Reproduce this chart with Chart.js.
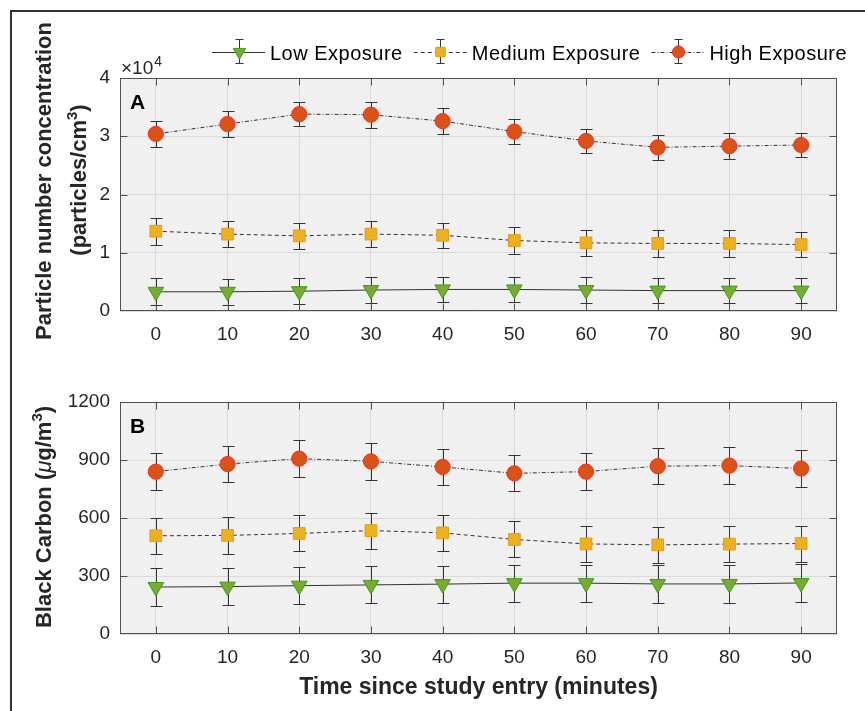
<!DOCTYPE html>
<html><head><meta charset="utf-8">
<script src="https://cdn.jsdelivr.net/npm/chart.js@4"></script>
<style>
html,body{margin:0;padding:0;background:#fff;}
#wrap{position:relative;width:865px;height:711px;overflow:hidden;background:#fff;}
#frame{position:absolute;left:10px;top:10px;width:900px;height:800px;border-left:2px solid #333;border-top:2px solid #333;}
canvas{position:absolute;left:0;}
#ca{top:0;}
#cb{top:360px;}
</style></head>
<body>
<div id="wrap"><div id="frame"></div>
<canvas id="ca" width="865" height="360"></canvas>
<canvas id="cb" width="865" height="351"></canvas>
</div>
<script>
// ---------- data ----------
const timeMin = [0,10,20,30,40,50,60,70,80,90];
const xTicks = [0,10,20,30,40,50,60,70,80,90];
const pncTicks = [0,10000,20000,30000,40000];
const bcTicks = [0,300,600,900,1200];
const seriesNames = ['Low Exposure','Medium Exposure','High Exposure'];

const pncLow     = [3300,3300,3400,3600,3700,3700,3600,3500,3500,3500];
const pncLowErr  = [2300,2200,2200,2200,2200,2200,2200,2200,2200,2200];
const pncMed     = [13700,13200,12900,13200,13000,12100,11700,11600,11600,11400];
const pncMedErr  = [2300,2200,2200,2200,2100,2300,2200,2300,2300,2200];
const pncHigh    = [30400,32100,33800,33700,32600,30800,29200,28100,28300,28500];
const pncHighErr = [2200,2200,2100,2200,2200,2100,2100,2200,2200,2100];

const bcLow      = [243,245,250,254,258,263,263,259,259,264];
const bcLowErr   = [96,97,96,96,96,96,96,97,97,96];
const bcMed      = [508,510,520,535,523,489,466,461,465,468];
const bcMedErr   = [93,94,93,93,93,93,93,93,93,93];
const bcHigh     = [840,879,907,893,864,831,840,868,871,856];
const bcHighErr  = [96,95,95,97,95,93,95,94,95,94];

// ---------- styles ----------
const FONT = "'Liberation Sans', Arial, Helvetica, sans-serif";
const TXT = '#262626';
const LINE = '#333333';
const BOX = '#505050';
const styles = [
  {pointStyle:'triangle', rotation:180, pointRadius:9, bg:'#77AC30', edge:'#3f9a1c', dash:[]},
  {pointStyle:'rect', rotation:0, pointRadius:8.3, bg:'#EDB120', edge:'#e59a18', dash:[4,3]},
  {pointStyle:'circle', rotation:0, pointRadius:7.6, bg:'#D95319', edge:'#ff2a1a', dash:[4,2,1,2]}
];

function mkDatasets(vals, errs){
  return vals.map((v,k)=>({
    label: seriesNames[k],
    data: timeMin.map((t,i)=>({x:t, y:v[i]})),
    err: errs[k],
    borderColor: LINE, borderWidth: 1, borderDash: styles[k].dash,
    pointStyle: styles[k].pointStyle, rotation: styles[k].rotation,
    pointRadius: styles[k].pointRadius, pointHoverRadius: styles[k].pointRadius,
    pointBackgroundColor: styles[k].bg, pointBorderColor: styles[k].edge, pointBorderWidth: 1,
    fill:false, tension:0
  }));
}

function drawRich(ctx, parts, cx, cy){
  let w = 0;
  parts.forEach(p=>{ctx.font=p.font; p.w=ctx.measureText(p.t).width; w+=p.w;});
  let x = cx - w/2;
  ctx.textAlign='left'; ctx.textBaseline='middle';
  parts.forEach(p=>{ctx.font=p.font; ctx.fillText(p.t, x, cy + (p.dy||0)); x+=p.w;});
}

const decor = {
  id:'decor',
  beforeDraw(chart){
    const {ctx, chartArea:a} = chart;
    ctx.save(); ctx.fillStyle='#f0f0f0';
    ctx.fillRect(a.left, a.top, a.right-a.left, a.bottom-a.top); ctx.restore();
  },
  beforeDatasetsDraw(chart){
    const {ctx} = chart; const xs = chart.scales.x, ys = chart.scales.y;
    ctx.save(); ctx.strokeStyle=LINE; ctx.lineWidth=1; ctx.setLineDash([]);
    chart.data.datasets.forEach(ds=>{
      ds.data.forEach((p,i)=>{
        const e = ds.err[i];
        const x = Math.round(xs.getPixelForValue(p.x))+0.5;
        const y1 = Math.round(ys.getPixelForValue(p.y+e))+0.5;
        const y2 = Math.round(ys.getPixelForValue(p.y-e))+0.5;
        ctx.beginPath();
        ctx.moveTo(x,y1); ctx.lineTo(x,y2);
        ctx.moveTo(x-6,y1); ctx.lineTo(x+6,y1);
        ctx.moveTo(x-6,y2); ctx.lineTo(x+6,y2);
        ctx.stroke();
      });
    });
    ctx.restore();
  },
  afterDraw(chart, args, o){
    const {ctx, chartArea:a} = chart; const xs = chart.scales.x, ys = chart.scales.y;
    ctx.save();
    ctx.strokeStyle=BOX; ctx.lineWidth=1; ctx.setLineDash([]);
    const L=Math.round(a.left)+0.5, R=Math.round(a.right)-0.5, T=Math.round(a.top)+0.5, B=Math.round(a.bottom)-0.5;
    ctx.strokeRect(L, T, R-L, B-T);
    ctx.beginPath();
    xs.ticks.forEach(t=>{const x=Math.round(xs.getPixelForValue(t.value))+0.5; ctx.moveTo(x,B); ctx.lineTo(x,B-7); ctx.moveTo(x,T); ctx.lineTo(x,T+7);});
    ys.ticks.forEach(t=>{const y=Math.round(ys.getPixelForValue(t.value))+0.5; if (y<=T+1||y>=B-1) return; ctx.moveTo(L,y); ctx.lineTo(L+7,y); ctx.moveTo(R,y); ctx.lineTo(R-7,y);});
    ctx.stroke();
    ctx.fillStyle='#000';
    ctx.font = 'bold 21px '+FONT; ctx.textAlign='left'; ctx.textBaseline='alphabetic';
    ctx.fillText(o.letter, a.left+10, a.top+31);
    ctx.fillStyle = TXT;
    o.ylabel.forEach(l=>{
      ctx.save(); ctx.translate(l.x, l.y); ctx.rotate(-Math.PI/2);
      drawRich(ctx, l.parts, 0, 0); ctx.restore();
    });
    if (o.exponent){
      ctx.fillStyle=TXT; ctx.textAlign='left'; ctx.textBaseline='alphabetic';
      ctx.font='19px '+FONT; ctx.fillText('\u00d710', a.left+1, a.top-4);
      const w = ctx.measureText('\u00d710').width;
      ctx.font='14px '+FONT; ctx.fillText('4', a.left+2+w, a.top-12);
    }
    if (o.xlabel){
      ctx.fillStyle=TXT; ctx.font='bold 23px '+FONT; ctx.textAlign='center'; ctx.textBaseline='middle';
      ctx.fillText(o.xlabel, (a.left+a.right)/2, o.xlabelY);
    }
    if (o.legend){
      let x = 212; const ly = 52;
      chart.data.datasets.forEach((ds,k)=>{
        const st = styles[k];
        ctx.strokeStyle=LINE; ctx.lineWidth=1; ctx.setLineDash(st.dash);
        ctx.beginPath(); ctx.moveTo(x, ly+0.5); ctx.lineTo(x+53, ly+0.5); ctx.stroke();
        ctx.setLineDash([]);
        const mx = Math.round(x+26.5)+0.5;
        ctx.beginPath(); ctx.moveTo(mx, 39); ctx.lineTo(mx, 64);
        ctx.moveTo(mx-4, 39.5); ctx.lineTo(mx+4, 39.5); ctx.moveTo(mx-4, 63.5); ctx.lineTo(mx+4, 63.5); ctx.stroke();
        ctx.fillStyle=st.bg; ctx.strokeStyle=st.edge; ctx.lineWidth=1;
        Chart.helpers.drawPoint(ctx, {pointStyle:st.pointStyle, rotation:st.rotation, radius:st.pointRadius*0.8, borderWidth:1}, mx, ly);
        ctx.fillStyle='#000'; ctx.font='20px '+FONT; ctx.textAlign='left'; ctx.textBaseline='alphabetic';
        ctx.letterSpacing = '0.5px';
        ctx.fillText(ds.label, x+58, 59.5);
        const tw = ctx.measureText(ds.label).width;
        ctx.letterSpacing = '0px';
        x = x + 58 + tw + 11;
      });
    }
    ctx.restore();
  }
};

function mkChart(id, datasets, yTicks, yMax, tickFmt, padTop, xAxisH, decorOpts){
  return new Chart(document.getElementById(id), {
    type:'line',
    data:{datasets},
    plugins:[decor],
    options:{
      responsive:false, animation:false, devicePixelRatio:1,
      layout:{padding:{left:0, right:28, top:padTop, bottom:0}},
      plugins:{legend:{display:false}, tooltip:{enabled:false}, decor:decorOpts},
      scales:{
        x:{type:'linear', min:-5, max:95,
          afterBuildTicks:s=>{s.ticks = xTicks.map(v=>({value:v}));},
          afterFit:s=>{s.height = xAxisH;},
          grid:{color:'#dadada', drawTicks:false, lineWidth:1},
          border:{display:false},
          ticks:{color:TXT, font:{family:FONT, size:19}, padding:12, maxRotation:0}
        },
        y:{type:'linear', min:0, max:yMax,
          afterBuildTicks:s=>{s.ticks = yTicks.map(v=>({value:v}));},
          afterFit:s=>{s.width = 120;},
          grid:{color:'#dadada', drawTicks:false, lineWidth:1},
          border:{display:false},
          ticks:{color:TXT, font:{family:FONT, size:19}, padding:10, callback:tickFmt}
        }
      }
    }
  });
}

const BF = 'bold 22px '+FONT;
mkChart('ca', mkDatasets([pncLow,pncMed,pncHigh],[pncLowErr,pncMedErr,pncHighErr]), pncTicks, 40000, v=>String(v/10000), 78, 49, {
  letter:'A', exponent:true, legend:true,
  ylabel:[
    {x:45, y:181, parts:[{t:'Particle number concentration', font:BF}]},
    {x:80, y:180, parts:[{t:'(particles/cm', font:BF},{t:'3', font:'bold 15px '+FONT, dy:-7},{t:')', font:BF}]}
  ]
});
mkChart('cb', mkDatasets([bcLow,bcMed,bcHigh],[bcLowErr,bcMedErr,bcHighErr]), bcTicks, 1200, v=>String(v), 42, 77, {
  letter:'B', exponent:false, legend:false, xlabel:'Time since study entry (minutes)', xlabelY:328,
  ylabel:[
    {x:45, y:157, parts:[{t:'Black Carbon (', font:BF},{t:'\u03bc', font:'italic 22px '+FONT},{t:'g/m', font:BF},{t:'3', font:'bold 15px '+FONT, dy:-7},{t:')', font:BF}]}
  ]
});
</script>
</body></html>
